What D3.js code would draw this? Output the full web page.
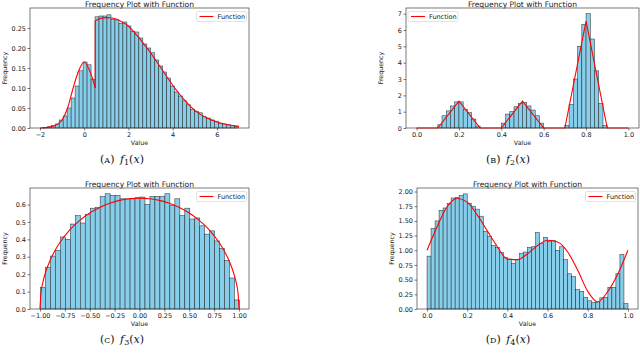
<!DOCTYPE html>
<html>
<head>
<meta charset="utf-8">
<script src="https://cdn.jsdelivr.net/npm/d3@7"></script>
<style>
  body { margin: 0; background: #fff; }
  svg { display: block; font-family: 'DejaVu Sans', sans-serif; }
  .cap { font-family: 'DejaVu Serif', serif; }
</style>
</head>
<body>
<svg id="chart" width="640" height="354"></svg>
<script>
// ── Data ──
const titleText = 'Frequency Plot with Function';
const xLabel = 'Value';
const yLabel = 'Frequency';
const legendText = 'Function';

// (A) f1
const binsA = [-1.85, 6.97];
const histA = [0.001, 0.003, 0.006, 0.01, 0.02, 0.03, 0.05, 0.075, 0.105, 0.143, 0.165, 0.158, 0.122,
  0.278, 0.28, 0.28, 0.283, 0.272, 0.27, 0.262, 0.265, 0.255, 0.242,
  0.24, 0.225, 0.21, 0.2, 0.188, 0.17, 0.155, 0.14, 0.125, 0.105,
  0.09, 0.08, 0.068, 0.058, 0.047, 0.042, 0.038, 0.028, 0.025, 0.02,
  0.017, 0.012, 0.01, 0.008, 0.006, 0.004];
const fAx1 = [-2, -1.75, -1.5, -1.25, -1, -0.75, -0.5, -0.25, 0, 0.25, 0.5];
const fAy1 = [0, 0.001, 0.003, 0.008, 0.02, 0.05, 0.1, 0.143, 0.165, 0.143, 0.1];
const fAx2 = [0.5, 0.75, 1, 1.25, 1.5, 1.75, 2, 2.25, 2.5, 2.75, 3, 3.25, 3.5, 3.75, 4, 4.25, 4.5, 4.75, 5, 5.5, 6, 6.5, 7];
const fAy2 = [0.268, 0.274, 0.276, 0.275, 0.271, 0.264, 0.255, 0.24, 0.224, 0.206, 0.188, 0.168, 0.148, 0.127, 0.107, 0.089, 0.072, 0.057, 0.044, 0.026, 0.015, 0.008, 0.004];
const xTicksA = [-2, 0, 2, 4, 6];
const yTicksA = [0, 0.05, 0.10, 0.15, 0.20, 0.25];

// (B) f2
const binsB = [0.1, 0.9];
const histB = [0.2, 0.75, 1.05, 1.35, 1.6, 1.6, 1.15, 0.95, 0.55, 0.12,
  0, 0, 0, 0, 0,
  0.3, 0.85, 1.0, 1.3, 1.5, 1.55, 1.35, 1.1, 0.75, 0.3,
  0, 0, 0, 0, 0,
  0.15, 1.45, 3.0, 5.0, 6.35, 7.0, 5.45, 3.5, 1.5, 0.15];
const fBx = [0, 0.1, 0.2, 0.3, 0.4, 0.5, 0.6, 0.7, 0.8, 0.9, 1.0];
const fBy = [0, 0, 1.65, 0, 0, 1.65, 0, 0, 6.55, 0, 0];
const xTicksB = [0, 0.2, 0.4, 0.6, 0.8, 1.0];
const yTicksB = [0, 1, 2, 3, 4, 5, 6, 7];

// (C) f3
const binsC = [-0.995, 1.005];
const histC = [0.124, 0.24, 0.304, 0.337, 0.414, 0.40, 0.488, 0.536, 0.494, 0.542,
  0.579, 0.584, 0.646, 0.662, 0.652, 0.652, 0.633, 0.633, 0.633, 0.639,
  0.643, 0.60, 0.646, 0.646, 0.646, 0.662, 0.594, 0.633, 0.536, 0.579,
  0.517, 0.523, 0.478, 0.43, 0.449, 0.391, 0.348, 0.279, 0.178, 0.052];
const fCx = [-1, -0.99, -0.97, -0.94, -0.9, -0.85, -0.8, -0.7, -0.6, -0.5, -0.4, -0.3, -0.2, -0.1, 0,
  0.1, 0.2, 0.3, 0.4, 0.5, 0.6, 0.7, 0.8, 0.85, 0.9, 0.94, 0.97, 0.99, 1];
const fCy = [0, 0.090, 0.155, 0.217, 0.277, 0.335, 0.382, 0.455, 0.509, 0.551, 0.583, 0.607, 0.624, 0.633, 0.637,
  0.633, 0.624, 0.607, 0.583, 0.551, 0.509, 0.455, 0.382, 0.335, 0.277, 0.217, 0.155, 0.090, 0];
const xTicksC = [-1, -0.75, -0.5, -0.25, 0, 0.25, 0.5, 0.75, 1];
const yTicksC = [0, 0.1, 0.2, 0.3, 0.4, 0.5, 0.6];

// (D) f4
const binsD = [0, 1];
const histD = [0.90, 1.37, 1.50, 1.68, 1.72, 1.80, 1.89, 1.90, 1.93, 1.96,
  1.80, 1.75, 1.70, 1.58, 1.32, 1.24, 1.08, 1.05, 0.96, 0.88,
  0.85, 0.78, 0.84, 0.95, 0.97, 1.05, 1.06, 1.30, 1.12, 1.22,
  1.15, 1.17, 1.00, 1.06, 0.84, 0.60, 0.55, 0.33, 0.30, 0.20,
  0.14, 0.11, 0.12, 0.19, 0.20, 0.37, 0.37, 0.60, 0.93, 0.09];
const fDx = [0, 0.05, 0.1, 0.15, 0.2, 0.25, 0.3, 0.35, 0.4, 0.45, 0.5, 0.55, 0.6, 0.65, 0.7, 0.75, 0.8, 0.85, 0.9, 0.95, 1.0];
const fDy = [1.0, 1.40, 1.74, 1.88, 1.82, 1.60, 1.33, 1.06, 0.85, 0.84, 0.94, 1.08, 1.17, 1.14, 0.97, 0.66, 0.30, 0.12, 0.30, 0.60, 1.0];
const xTicksD = [0, 0.2, 0.4, 0.6, 0.8, 1.0];
const yTicksD = [0, 0.25, 0.5, 0.75, 1.0, 1.25, 1.5, 1.75, 2.0];

const svg = d3.select('#chart');

// ── Panels ──
const panels = [
  { letter: 'A', sub: '1', hist: histA, bins: binsA, curves: [[fAx1, fAy1], [fAx2, fAy2]], jump: true,
    xDomain: [-2.45, 7.45], yDomain: [0, 0.3], xTicks: xTicksA, yTicks: yTicksA, xFmt: 'd', yFmt: '.2f',
    left: 30, right: 249, top: 8, bottom: 128, legend: 'right', capX: 122, capY: 163 },
  { letter: 'B', sub: '2', hist: histB, bins: binsB, curves: [[fBx, fBy]], linear: true,
    xDomain: [-0.05, 1.05], yDomain: [0, 7.35], xTicks: xTicksB, yTicks: yTicksB, xFmt: '.1f', yFmt: 'd',
    left: 406, right: 639, top: 8, bottom: 128, legend: 'left', capX: 508, capY: 163 },
  { letter: 'C', sub: '3', hist: histC, bins: binsC, curves: [[fCx, fCy]],
    xDomain: [-1.1, 1.1], yDomain: [0, 0.695], xTicks: xTicksC, yTicks: yTicksC, xFmt: '.2f', yFmt: '.1f',
    left: 30, right: 249, top: 188, bottom: 309, legend: 'right', capX: 122, capY: 343 },
  { letter: 'D', sub: '4', hist: histD, bins: binsD, curves: [[fDx, fDy]],
    xDomain: [-0.05, 1.05], yDomain: [0, 2.06], xTicks: xTicksD, yTicks: yTicksD, xFmt: '.1f', yFmt: '.2f',
    left: 417, right: 638, top: 188, bottom: 309, legend: 'right', capX: 508, capY: 343 }
];

panels.forEach(drawPanel);

function drawPanel(p) {
  const g = svg.append('g');
  const x = d3.scaleLinear().domain(p.xDomain).range([p.left, p.right]);
  const y = d3.scaleLinear().domain(p.yDomain).range([p.bottom, p.top]);
  const bw = (p.bins[1] - p.bins[0]) / p.hist.length;

  // Bars
  g.selectAll('rect.bar')
    .data(p.hist.map((v, i) => ({ x0: p.bins[0] + i * bw, x1: p.bins[0] + (i + 1) * bw, v })).filter(d => d.v > 0))
    .enter().append('rect')
    .attr('x', d => x(d.x0))
    .attr('y', d => y(d.v))
    .attr('width', d => x(d.x1) - x(d.x0))
    .attr('height', d => y(0) - y(d.v))
    .attr('fill', '#87ceeb')
    .attr('stroke', '#1a1a1a').attr('stroke-width', 0.55).attr('stroke-opacity', 0.85);

  // Function line
  const lineGen = d3.line()
    .x(d => x(d[0])).y(d => y(d[1]))
    .curve(p.linear ? d3.curveLinear : d3.curveMonotoneX);
  p.curves.forEach(c => {
    g.append('path').datum(d3.zip(c[0], c[1]))
      .attr('fill', 'none').attr('stroke', 'red').attr('stroke-width', 1.1).attr('d', lineGen);
  });
  if (p.jump) {
    const a = p.curves[0], b = p.curves[1];
    const pts = [[a[0][a[0].length - 1], a[1][a[1].length - 1]], [b[0][0], b[1][0]]];
    g.append('path').datum(pts)
      .attr('fill', 'none').attr('stroke', 'red').attr('stroke-width', 1.1)
      .attr('d', d3.line().x(d => x(d[0])).y(d => y(d[1])));
  }

  // Axes
  const xAxis = g.append('g').attr('transform', `translate(0,${p.bottom})`)
    .call(d3.axisBottom(x).tickValues(p.xTicks).tickFormat(d3.format(p.xFmt)).tickSize(2.5).tickPadding(1.5));
  const yAxis = g.append('g').attr('transform', `translate(${p.left},0)`)
    .call(d3.axisLeft(y).tickValues(p.yTicks).tickFormat(d3.format(p.yFmt)).tickSize(2.5).tickPadding(1.5));
  [xAxis, yAxis].forEach(a => {
    a.select('.domain').remove();
    a.selectAll('line').attr('stroke', '#222').attr('stroke-width', 0.6);
    a.selectAll('text').attr('fill', '#222').style('font-size', '6.5px').attr('font-family', 'DejaVu Sans');
  });

  // Frame
  g.append('rect')
    .attr('x', p.left).attr('y', p.top)
    .attr('width', p.right - p.left).attr('height', p.bottom - p.top)
    .attr('fill', 'none').attr('stroke', '#222').attr('stroke-width', 0.6);

  const cx = (p.left + p.right) / 2;

  // Title and labels
  g.append('text').attr('x', cx).attr('y', p.top - 1.5)
    .attr('text-anchor', 'middle').attr('fill', '#222').style('font-size', '7.6px').text(titleText);
  g.append('text').attr('x', cx).attr('y', p.bottom + 17)
    .attr('text-anchor', 'middle').attr('fill', '#222').style('font-size', '6.3px').text(xLabel);
  g.append('text')
    .attr('transform', `translate(${p.left - 23},${(p.top + p.bottom) / 2}) rotate(-90)`)
    .attr('text-anchor', 'middle').attr('fill', '#222').style('font-size', '6.3px').text(yLabel);

  // Legend
  const lw = 50, lh = 10;
  const lx = p.legend === 'right' ? p.right - lw - 2.5 : p.left + 2;
  const ly = p.top + 3.5;
  const legend = g.append('g').attr('transform', `translate(${lx},${ly})`);
  legend.append('rect').attr('width', lw).attr('height', lh).attr('rx', 1.5)
    .attr('fill', '#fff').attr('fill-opacity', 0.85).attr('stroke', '#d0d0d0').attr('stroke-width', 0.6);
  legend.append('line').attr('x1', 3).attr('x2', 17).attr('y1', lh / 2).attr('y2', lh / 2)
    .attr('stroke', 'red').attr('stroke-width', 1.1);
  legend.append('text').attr('x', 21).attr('y', lh / 2 + 2.3)
    .attr('fill', '#222').style('font-size', '6.5px').text(legendText);

  // Caption
  const cap = svg.append('text').attr('class', 'cap')
    .attr('x', p.capX).attr('y', p.capY).attr('text-anchor', 'middle')
    .attr('fill', '#111').style('font-size', '11px');
  cap.append('tspan').text('(');
  cap.append('tspan').style('font-size', '8px').text(p.letter);
  cap.append('tspan').text(')\u2002');
  cap.append('tspan').style('font-style', 'italic').text('f');
  cap.append('tspan').attr('dy', 2).style('font-size', '8px').text(p.sub);
  cap.append('tspan').attr('dy', -2).text('(');
  cap.append('tspan').style('font-style', 'italic').text('x');
  cap.append('tspan').text(')');
}
</script>
</body>
</html>
